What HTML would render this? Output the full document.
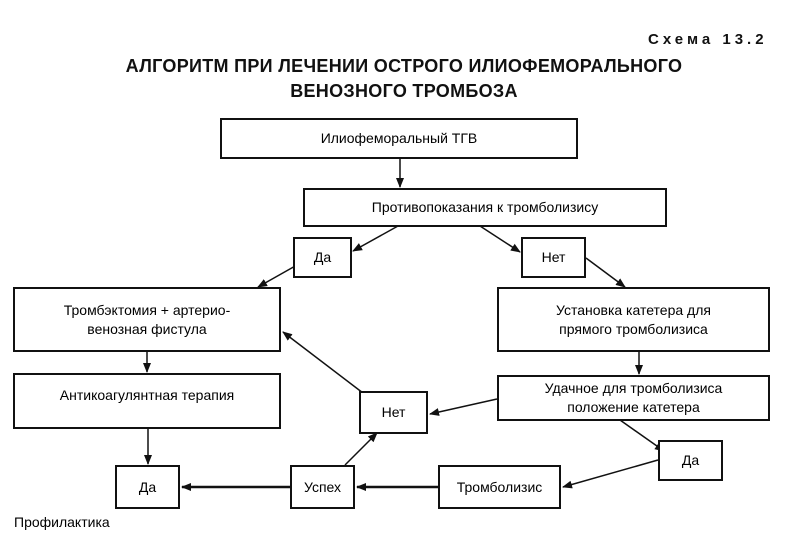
<!DOCTYPE html>
<html><head><meta charset="utf-8"><style>
body{margin:0;background:#fff;width:788px;height:548px;overflow:hidden;position:relative;font-family:"Liberation Sans","DejaVu Sans",sans-serif;}
.b{position:absolute;border:2.5px solid #111;box-sizing:border-box;display:flex;align-items:center;justify-content:center;text-align:center;font-size:14px;line-height:19px;color:#000;background:#fff;}
.t{position:absolute;font-weight:bold;color:#111;}
svg{position:absolute;left:0;top:0;}
</style></head><body>
<div class="t" style="left:648px;top:31px;font-size:15px;letter-spacing:4px">Схема 13.2</div>
<div class="t" style="left:0;width:808px;top:54px;text-align:center;font-size:18px;line-height:25px;letter-spacing:0.3px">АЛГОРИТМ ПРИ ЛЕЧЕНИИ ОСТРОГО ИЛИОФЕМОРАЛЬНОГО<br>ВЕНОЗНОГО ТРОМБОЗА</div>
<svg width="788" height="548">
<defs><marker id="a" markerWidth="10" markerHeight="10" refX="9" refY="5" orient="auto" markerUnits="userSpaceOnUse"><path d="M0,1 L10,5 L0,9 z" fill="#111"/></marker></defs>
<g stroke="#111" stroke-width="1.5" fill="none" marker-end="url(#a)">
<line x1="400" y1="158" x2="400" y2="187"/>
<line x1="398" y1="226" x2="353" y2="251"/>
<line x1="480" y1="226" x2="520" y2="252"/>
<line x1="297" y1="265" x2="258" y2="287"/>
<line x1="586" y1="258" x2="625" y2="287"/>
<line x1="147" y1="351" x2="147" y2="372"/>
<line x1="639" y1="351" x2="639" y2="374"/>
<line x1="497" y1="399" x2="430" y2="414"/>
<line x1="363" y1="393" x2="283" y2="332"/>
<line x1="345" y1="465" x2="377" y2="433"/>
<line x1="148" y1="428" x2="148" y2="464"/>
<line x1="620" y1="420" x2="664" y2="451"/>
<line x1="658" y1="460" x2="563" y2="487"/>
<line x1="438" y1="487" x2="357" y2="487" stroke-width="2.5"/>
<line x1="290" y1="487" x2="182" y2="487" stroke-width="2.5"/>
</g></svg>
<div class="b" style="left:220px;top:118px;width:358px;height:41px">Илиофеморальный ТГВ</div>
<div class="b" style="left:303px;top:188px;width:364px;height:39px">Противопоказания к тромболизису</div>
<div class="b" style="left:293px;top:237px;width:59px;height:41px">Да</div>
<div class="b" style="left:521px;top:237px;width:65px;height:41px">Нет</div>
<div class="b" style="left:13px;top:287px;width:268px;height:65px">Тромбэктомия + артерио-<br>венозная фистула</div>
<div class="b" style="left:497px;top:287px;width:273px;height:65px">Установка катетера для<br>прямого тромболизиса</div>
<div class="b" style="left:13px;top:373px;width:268px;height:56px;padding-bottom:12px">Антикоагулянтная терапия</div>
<div class="b" style="left:497px;top:375px;width:273px;height:46px">Удачное для тромболизиса<br>положение катетера</div>
<div class="b" style="left:359px;top:391px;width:69px;height:43px">Нет</div>
<div class="b" style="left:658px;top:440px;width:65px;height:41px">Да</div>
<div class="b" style="left:115px;top:465px;width:65px;height:44px">Да</div>
<div class="b" style="left:290px;top:465px;width:65px;height:44px">Успех</div>
<div class="b" style="left:438px;top:465px;width:123px;height:44px">Тромболизис</div>
<div style="position:absolute;left:14px;top:514px;font-size:14px;color:#000">Профилактика</div>
</body></html>
